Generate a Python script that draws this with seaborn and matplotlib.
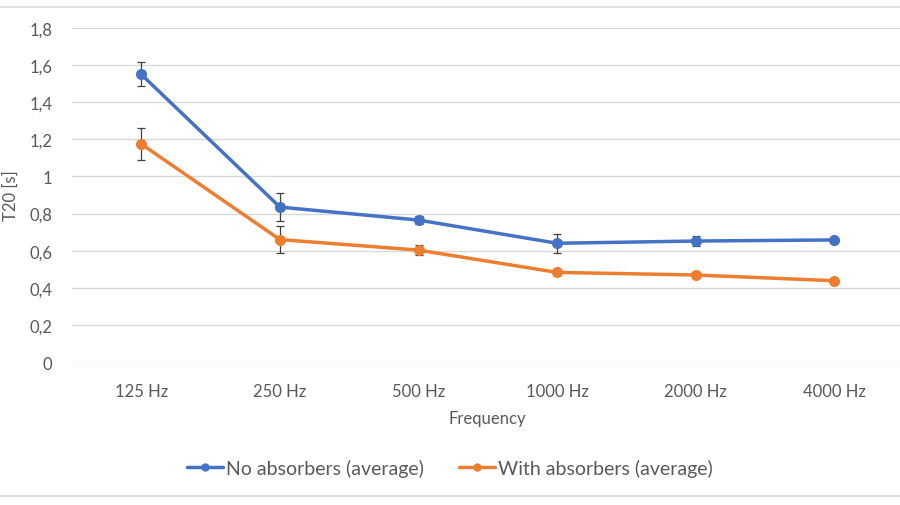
import matplotlib
matplotlib.use("Agg")
import matplotlib.pyplot as plt
import numpy as np
import pandas as pd
import seaborn as sns
from matplotlib.lines import Line2D

frequencies = ["125 Hz", "250 Hz", "500 Hz", "1000 Hz", "2000 Hz", "4000 Hz"]
no_absorbers = [1.55, 0.835, 0.765, 0.64, 0.652, 0.658]
no_absorbers_err = [0.065, 0.075, 0.022, 0.05, 0.025, 0.008]
with_absorbers = [1.175, 0.66, 0.603, 0.483, 0.469, 0.438]
with_absorbers_err = [0.085, 0.075, 0.025, 0.015, 0.006, 0.006]
series_names = ["No absorbers (average)", "With absorbers (average)"]
y_ticks = [0, 0.2, 0.4, 0.6, 0.8, 1.0, 1.2, 1.4, 1.6, 1.8]

sns.set_theme(style="white")
plt.rcParams["font.family"] = ["Lato", "DejaVu Sans"]

text_color = "#595959"
colors = ["#4472C4", "#ED7D31"]
fs = 12

df = pd.DataFrame({
    "pos": list(range(len(frequencies))) * 2,
    "value": no_absorbers + with_absorbers,
    "err": no_absorbers_err + with_absorbers_err,
    "series": [series_names[0]] * len(frequencies) + [series_names[1]] * len(frequencies),
})

fig = plt.figure(figsize=(9, 5.06), dpi=100)
ax = fig.add_axes([0.08, 0.2826, 0.924, 0.66])

for name, color in zip(series_names, colors):
    sub = df[df["series"] == name]
    ax.errorbar(sub["pos"], sub["value"], yerr=sub["err"], fmt="none",
                ecolor="#404040", elinewidth=0.9, capsize=3, capthick=0.9, zorder=2)

sns.lineplot(data=df, x="pos", y="value", hue="series", palette=colors,
             marker="o", markersize=8, markeredgewidth=0, linewidth=2.5,
             ax=ax, legend=False, zorder=3)

ax.set_xlim(-0.5, 5.5)
ax.set_ylim(0, 1.8)
ax.set_yticks(y_ticks)
ax.set_yticklabels([f"{t:g}".replace(".", ",") for t in y_ticks])
ax.set_xticks(range(len(frequencies)))
ax.set_xticklabels(frequencies)
ax.grid(axis="y", color="#d9d9d9", linewidth=1)
ax.set_axisbelow(True)
for s in ax.spines.values():
    s.set_visible(False)
ax.tick_params(axis="both", length=0, labelsize=fs, colors=text_color)
ax.tick_params(axis="y", pad=14)
ax.tick_params(axis="x", pad=15)
ax.set_xlabel("Frequency", fontsize=fs, color=text_color, labelpad=8)
ax.set_ylabel("")
fig.text(0.012, 1 - 196 / 506, "T20 [s]", rotation=90, va="center", ha="center",
         fontsize=fs, color=text_color)

handles = [Line2D([0], [0], color=c, linewidth=2.5, marker="o", markersize=5) for c in colors]
fig.legend(handles, series_names, loc="center", bbox_to_anchor=(0.5, 1 - 469 / 506),
           ncol=2, frameon=False, fontsize=14, labelcolor=text_color,
           handlelength=1.85, handletextpad=0.15, columnspacing=1.8)

for yp in (8, 497):
    fig.add_artist(Line2D([0, 1], [1 - yp / 506] * 2, color="#d9d9d9", linewidth=1.2,
                          transform=fig.transFigure))

fig.savefig("out.png", dpi=100)
